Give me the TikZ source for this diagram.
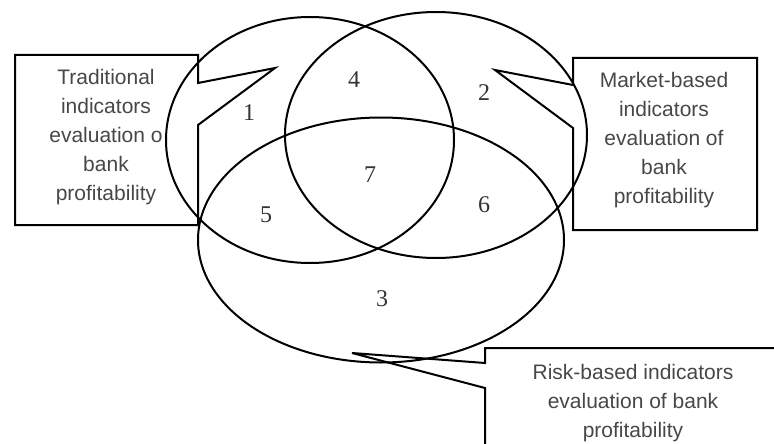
\documentclass[tikz,border=0pt]{standalone}
\usepackage{fontspec}
\setmainfont{Liberation Serif}
\newfontfamily\boxfont{Liberation Sans}
\usetikzlibrary{shapes.geometric}
\tikzset{
  setring/.style={draw, ellipse, line width=2pt, inner sep=0pt},
  callout/.style={draw, line width=2pt, line join=miter},
  boxtext/.style={align=center, text=black!72, inner sep=0pt,
    font=\boxfont\fontsize{21}{29}\selectfont},
  region/.style={text=black!80, inner sep=0pt, font=\fontsize{24}{24}\selectfont}
}
\begin{document}
\begin{tikzpicture}[x=1pt, y=-1pt]
\useasboundingbox (0,0) rectangle (774,444);
\clip (0,0) rectangle (774,444);
% three sets
\node[setring, minimum width=288pt, minimum height=246pt] (L) at (310,140) {};
\node[setring, minimum width=302pt, minimum height=246pt] (R) at (436,135) {};
\node[setring, minimum width=366pt, minimum height=245pt] (B) at (381,240) {};
% region numbers
\node[region] (n1) at (249,113) {1};
\node[region] (n4) at (354,80) {4};
\node[region] (n2) at (484,93) {2};
\node[region] (n7) at (370,175) {7};
\node[region] (n5) at (266,215) {5};
\node[region] (n6) at (484,205) {6};
\node[region] (n3) at (382,299) {3};
% callout coordinates
\coordinate (lt) at (275,68);
\coordinate (rt) at (495,70);
\coordinate (bt) at (352,353);
% left callout
\draw[callout] (15,55) -- (198,55) -- (198,83) -- (lt) -- (198,125) -- (198,225) -- (15,225) -- cycle;
% right callout
\draw[callout] (573,58) -- (757,58) -- (757,230) -- (573,230) -- (573,128) -- (rt) -- (573,85) -- cycle;
% bottom callout
\draw[callout] (485,363) -- (485,348) -- (800,348) -- (800,470) -- (485,470) -- (485,388) -- (bt) -- cycle;
% callout texts
\node[boxtext] (tl) at (106,137) {Traditional\\indicators\\evaluation o\\bank\\profitability};
\node[boxtext] (tr) at (664,140) {Market-based\\indicators\\evaluation of\\bank\\profitability};
\node[boxtext] (tb) at (633,403) {Risk-based indicators\\evaluation of bank\\profitability};
\end{tikzpicture}
\end{document}
